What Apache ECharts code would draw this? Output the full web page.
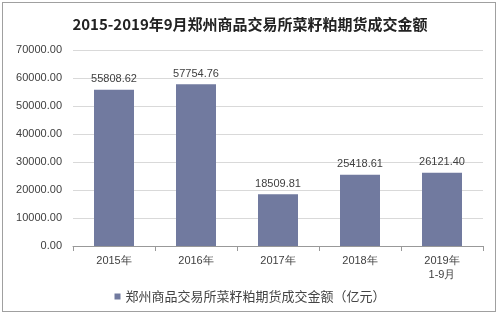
<!DOCTYPE html>
<html><head><meta charset="utf-8">
<script src="https://cdn.jsdelivr.net/npm/echarts@6/dist/echarts.min.js"></script>
<style>html,body{margin:0;padding:0;background:#fff}#c{width:500px;height:316px}
#frame{position:absolute;left:2px;top:2px;width:494px;height:310px;border:1px solid #a0a0a0;box-sizing:border-box;pointer-events:none}</style>
</head><body><div id="c"></div><div id="frame"></div>
<script>
const categories = ['2015年', '2016年', '2017年', '2018年', '2019年\n1-9月'];
const values = [55808.62, 57754.76, 18509.81, 25418.61, 26121.40];
const seriesName = '郑州商品交易所菜籽粕期货成交金额（亿元）';
const titleText = '2015-2019年9月郑州商品交易所菜籽粕期货成交金额';

const chart = echarts.init(document.getElementById('c'));
chart.setOption({
  animation: false,
  title: {
    text: titleText, left: 'center', top: 12,
    textStyle: { fontFamily: 'Noto Sans CJK SC', fontWeight: 'bold', fontSize: 15, color: '#222' }
  },
  grid: { left: 73, right: 17, top: 50, bottom: 70 },
  legend: {
    bottom: 8, left: 'center', itemWidth: 6, itemHeight: 6, itemGap: 4,
    icon: 'rect',
    textStyle: { fontFamily: 'Noto Sans CJK SC', fontSize: 13, color: '#444' },
    data: [seriesName]
  },
  xAxis: {
    type: 'category', data: categories,
    axisLine: { lineStyle: { color: '#999' } },
    axisTick: { show: true, alignWithLabel: false, lineStyle: { color: '#999' } },
    axisLabel: { color: '#404040', fontSize: 11, fontFamily: 'Liberation Sans', lineHeight: 14, margin: 8 }
  },
  yAxis: {
    type: 'value', min: 0, max: 70000, interval: 10000,
    axisLine: { show: false }, axisTick: { show: false },
    axisLabel: { color: '#404040', fontSize: 11, fontFamily: 'Liberation Sans', margin: 11,
      formatter: v => v.toFixed(2) },
    splitLine: { lineStyle: { color: '#d9d9d9' } }
  },
  series: [{
    name: seriesName, type: 'bar', data: values, barWidth: 40,
    itemStyle: { color: '#717a9f' },
    label: { show: true, position: 'top', color: '#404040', fontSize: 11, fontFamily: 'Liberation Sans',
      formatter: p => p.value.toFixed(2) }
  }]
});
</script></body></html>
